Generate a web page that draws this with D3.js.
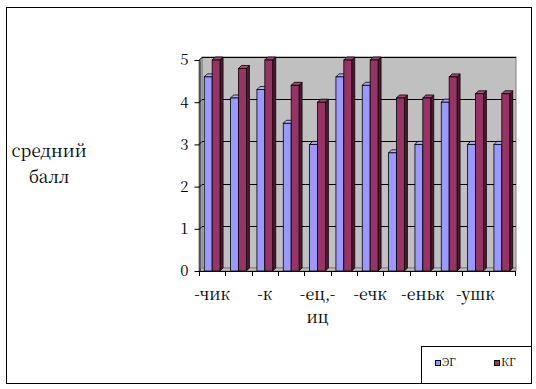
<!DOCTYPE html>
<html><head><meta charset="utf-8">
<script src="https://cdn.jsdelivr.net/npm/d3@7"></script>
<style>html,body{margin:0;padding:0;background:#fff;}svg{display:block;}</style>
</head><body>
<svg id="c" width="536" height="389"></svg>
<script>
const categories = ["-чик", "", "-к", "", "-ец,-|иц", "", "-ечк", "", "-еньк", "", "-ушк", ""];
const seriesNames = ["ЭГ", "КГ"];
const valuesEG = [4.6, 4.1, 4.3, 3.5, 3.0, 4.6, 4.4, 2.8, 3.0, 4.0, 3.0, 3.0];
const valuesKG = [5.0, 4.8, 5.0, 4.4, 4.0, 5.0, 5.0, 4.1, 4.1, 4.6, 4.2, 4.2];
const yTicks = [0, 1, 2, 3, 4, 5];
const yTitle = ["средний", "балл"];

const colors = {"ЭГ": {front: "#9999ff", top: "#b0b0ff", side: "#6b6bb3"},
                "КГ": {front: "#993366", top: "#a84777", side: "#4d1a33"}};
const FONT = '"Noto Serif CJK SC", "Noto Serif CJK JP", serif';
const svg = d3.select("#c");

// outer border
svg.append("rect").attr("x", 6.5).attr("y", 7.5).attr("width", 525).attr("height", 376)
  .attr("fill", "none").attr("stroke", "#000").attr("stroke-width", 1);

const x0 = 199, x1 = 515, yTop = 60, yBot = 271, d = 3;
const idx = categories.map((c, i) => i);
const x = d3.scaleBand().domain(idx).range([x0, x1]).padding(0);
const bw = x.bandwidth();
const xs = d3.scaleBand().domain(seriesNames).range([bw * 0.2, bw * 0.8]).padding(0);
const y = d3.scaleLinear().domain([0, 5]).range([yBot, yTop]);

// back wall
svg.append("rect").attr("x", x0 + d).attr("y", y(5) - d).attr("width", x1 + 1 - x0 - d).attr("height", y(0) - y(5))
  .attr("fill", "#c0c0c0").attr("stroke", "#808080").attr("stroke-width", 1);
// floor
svg.append("path").attr("d", `M${x0},${y(0)}L${x0 + d},${y(0) - d}L${x1 + 1},${y(0) - d}L${x1 + 1},${y(0)}Z`)
  .attr("fill", "#c0c0c0").attr("stroke", "#808080");
// side wall
svg.append("path").attr("d", `M${x0},${y(0)}L${x0},${y(5)}L${x0 + d},${y(5) - d}L${x0 + d},${y(0) - d}Z`)
  .attr("fill", "#c0c0c0").attr("stroke", "#808080");

// gridlines
svg.append("g").selectAll("path").data(yTicks.filter(t => t > 0)).join("path")
  .attr("d", t => `M${x0},${Math.round(y(t)) + 0.5}L${x0 + d},${Math.round(y(t)) - d + 0.5}L${x1 + 1},${Math.round(y(t)) - d + 0.5}`)
  .attr("fill", "none").attr("stroke", "#000").attr("stroke-width", 1);

// bars
const data = [];
categories.forEach((c, i) => {
  data.push({i, s: "ЭГ", v: valuesEG[i]});
  data.push({i, s: "КГ", v: valuesKG[i]});
});
const bars = svg.append("g").selectAll("g").data(data).join("g");
bars.each(function(p) {
  const g = d3.select(this);
  const bx = x(p.i) + xs(p.s), w = xs.bandwidth(), top = y(p.v), b = y(0);
  const c = colors[p.s];
  g.append("path").attr("d", `M${bx + w},${top}L${bx + w + d},${top - d}L${bx + w + d},${b - d}L${bx + w},${b}Z`)
    .attr("fill", c.side).attr("stroke", "#000").attr("stroke-width", 0.8);
  g.append("path").attr("d", `M${bx},${top}L${bx + d},${top - d}L${bx + w + d},${top - d}L${bx + w},${top}Z`)
    .attr("fill", c.top).attr("stroke", "#000").attr("stroke-width", 0.8);
  g.append("rect").attr("x", bx).attr("y", top).attr("width", w).attr("height", b - top)
    .attr("fill", c.front).attr("stroke", "#000").attr("stroke-width", 0.8);
});

// y axis
const yAxis = svg.append("g").attr("transform", `translate(${x0 + 0.5},0)`)
  .call(d3.axisLeft(y).tickValues(yTicks).tickFormat(d3.format("d")).tickSize(5).tickPadding(6).tickSizeOuter(0));
yAxis.select(".domain").attr("stroke", "#000");
yAxis.selectAll("text").style("font-family", FONT).attr("font-size", 15).attr("fill", "#000");

// x axis line and ticks
svg.append("line").attr("x1", x0).attr("x2", x1 + 1).attr("y1", y(0) + 0.5).attr("y2", y(0) + 0.5).attr("stroke", "#000");
const bounds = idx.map(i => x(i)).concat([x1]);
svg.append("g").selectAll("line").data(bounds).join("line")
  .attr("x1", b => Math.round(b) + 0.5).attr("x2", b => Math.round(b) + 0.5)
  .attr("y1", y(0)).attr("y2", y(0) + 5).attr("stroke", "#000");

// category labels
const lab = svg.append("g").selectAll("text").data(idx.filter(i => categories[i] !== "")).join("text")
  .attr("x", i => x(i) + bw / 2).attr("y", 300)
  .attr("text-anchor", "middle").attr("font-size", 16).attr("fill", "#000").style("font-family", FONT);
lab.each(function(i) {
  const parts = categories[i].split("|");
  d3.select(this).selectAll("tspan").data(parts).join("tspan")
    .attr("x", x(i) + bw / 2).attr("dy", (p, k) => k === 0 ? 0 : 23).text(p => p);
});

// y title
svg.append("text").attr("font-size", 17).attr("text-anchor", "middle").style("font-family", FONT)
  .selectAll("tspan").data(yTitle).join("tspan")
  .attr("x", 49).attr("y", (t, k) => 157 + k * 26).text(t => t);

// legend
svg.append("rect").attr("x", 421.5).attr("y", 346.5).attr("width", 110).attr("height", 37)
  .attr("fill", "#fff").attr("stroke", "#000");
const leg = svg.append("g").selectAll("g").data(seriesNames).join("g")
  .attr("transform", (s, k) => `translate(${435 + k * 59},0)`);
leg.append("rect").attr("x", 0.5).attr("y", 360.5).attr("width", 5).attr("height", 5)
  .attr("fill", s => colors[s].front).attr("stroke", "#000");
leg.append("text").attr("x", 7).attr("y", 366).attr("font-size", 11).style("font-family", FONT)
  .text(s => s);
</script>
</body></html>
